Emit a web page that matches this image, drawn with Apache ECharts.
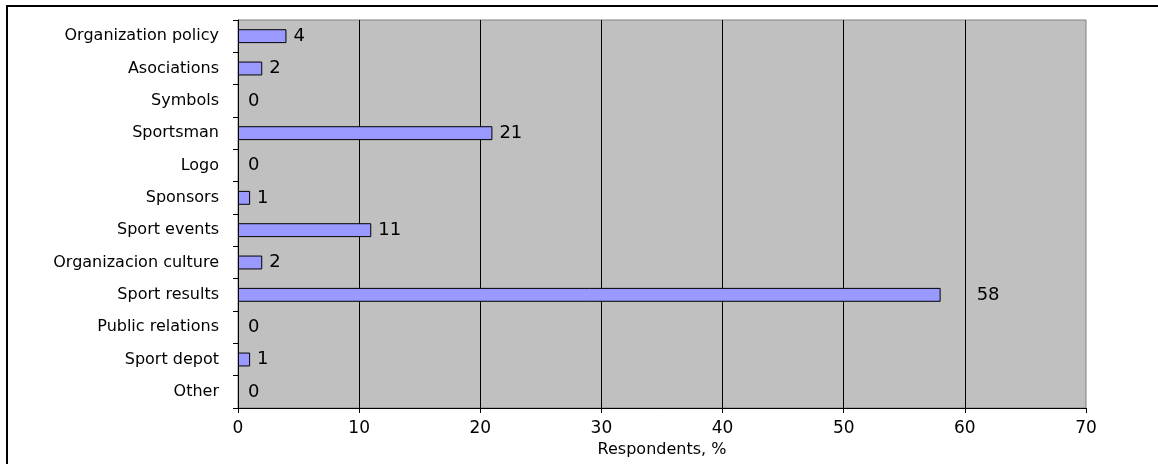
<!DOCTYPE html>
<html>
<head>
<meta charset="utf-8">
<script src="https://cdn.jsdelivr.net/npm/echarts@6/dist/echarts.min.js"></script>
<style>
html,body{margin:0;padding:0;background:#fff;}
#chart{width:1158px;height:464px;}
</style>
</head>
<body>
<div id="chart"></div>
<script>
const categories = ["Organization policy","Asociations","Symbols","Sportsman","Logo","Sponsors","Sport events","Organizacion culture","Sport results","Public relations","Sport depot","Other"];
const values = [4,2,0,21,0,1,11,2,58,0,1,0];
const xTicks = [0,10,20,30,40,50,60,70];
const axisTitle = "Respondents, %";

const FONT = "DejaVu Sans";
const maxVal = Math.max.apply(null, values);
const data = values.map(function(v){
  const item = {value: v};
  if (v === maxVal) item.label = {distance: 36};
  if (v === 0) { item.itemStyle = {borderWidth: 0}; item.label = {distance: 10}; }
  return item;
});

const chart = echarts.init(document.getElementById('chart'));
chart.setOption({
  animation: false,
  backgroundColor: '#ffffff',
  grid: {
    left: 238, right: 72, top: 20, bottom: 56,
    show: true, backgroundColor: '#C0C0C0', borderColor: '#808080', borderWidth: 1
  },
  xAxis: {
    type: 'value', min: xTicks[0], max: xTicks[xTicks.length-1], interval: 10,
    name: axisTitle, nameLocation: 'middle', nameGap: 26,
    nameTextStyle: {fontFamily: FONT, fontSize: 16, color: '#000'},
    axisLine: {show: true, lineStyle: {color: '#000', width: 1}},
    axisTick: {show: true, length: 5, lineStyle: {color: '#000'}},
    axisLabel: {fontFamily: FONT, fontSize: 17, color: '#000', margin: 12},
    splitLine: {show: true, showMinLine: false, showMaxLine: false, lineStyle: {color: '#000', width: 1}}
  },
  yAxis: {
    type: 'category', data: categories, inverse: true,
    axisLine: {show: true, lineStyle: {color: '#000', width: 1}},
    axisTick: {show: true, length: 5, alignWithLabel: false, lineStyle: {color: '#000'}},
    axisLabel: {fontFamily: FONT, fontSize: 16, color: '#000', margin: 19},
    splitLine: {show: false}
  },
  series: [{
    type: 'bar',
    data: data,
    barWidth: '43%',
    itemStyle: {color: '#9999FF', borderColor: '#000', borderWidth: 1},
    label: {show: true, position: 'right', distance: 7, fontFamily: FONT, fontSize: 18, color: '#000'}
  }],
  graphic: [{
    type: 'rect', silent: true,
    shape: {x: 7, y: 6, width: 1200, height: 500},
    style: {fill: 'none', stroke: '#000', lineWidth: 2}
  }]
});
</script>
</body>
</html>
